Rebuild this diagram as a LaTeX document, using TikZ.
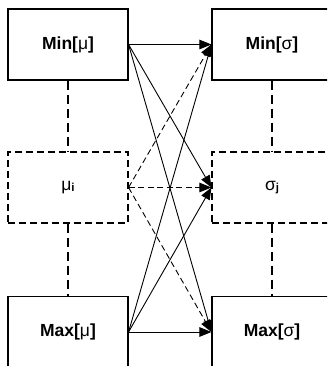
\documentclass[tikz,border=0pt]{standalone}
\usepackage{fontspec}
\setmainfont{Liberation Sans}
\usetikzlibrary{arrows.meta}
\begin{document}
\begin{tikzpicture}[x=1pt,y=1pt,
  box/.style={draw, line width=1.1pt, minimum width=120pt, minimum height=71pt, inner sep=0pt, font=\fontsize{17.5}{20}\selectfont},
  dbox/.style={box, dash pattern=on 7pt off 4pt},
  link/.style={line width=0.9pt, -{Triangle[length=12pt,width=9.5pt]}},
  dlink/.style={link, dash pattern=on 6pt off 3.5pt},
  vdash/.style={line width=1.3pt, dash pattern=on 9pt off 5pt}]
\useasboundingbox (0,0) rectangle (327,366);
\clip (0,0) rectangle (327,366);
% y_tikz = 366 - y_px
\node[box]  (tl) at (68,321.5) {\textbf{Min[}μ\textbf{]}};
\node[dbox] (ml) at (68,178.5) {μ\raisebox{-1pt}{\fontsize{11.5}{13}\selectfont\bfseries i}};
\node[box]  (bl) at (68,34)  {\textbf{Max[}μ\textbf{]}};
\node[box]  (tr) at (272,321.5) {\textbf{Min[}σ\textbf{]}};
\node[dbox] (mr) at (272,178.5) {σ\raisebox{-1pt}{\fontsize{11.5}{13}\selectfont\bfseries j}};
\node[box]  (br) at (272,34)  {\textbf{Max[}σ\textbf{]}};
\draw[vdash] (tl.south) -- (ml.north);
\draw[vdash] (ml.south) -- (bl.north);
\draw[vdash] (tr.south) -- (mr.north);
\draw[vdash] (mr.south) -- (br.north);
\draw[link] (tl.east) -- (tr.west);
\draw[link] (tl.east) -- (mr.west);
\draw[link] (tl.east) -- (br.west);
\draw[dlink] (ml.east) -- (tr.west);
\draw[dlink] (ml.east) -- (mr.west);
\draw[dlink] (ml.east) -- (br.west);
\draw[link] (bl.east) -- (tr.west);
\draw[link] (bl.east) -- (mr.west);
\draw[link] (bl.east) -- (br.west);
\end{tikzpicture}
\end{document}
